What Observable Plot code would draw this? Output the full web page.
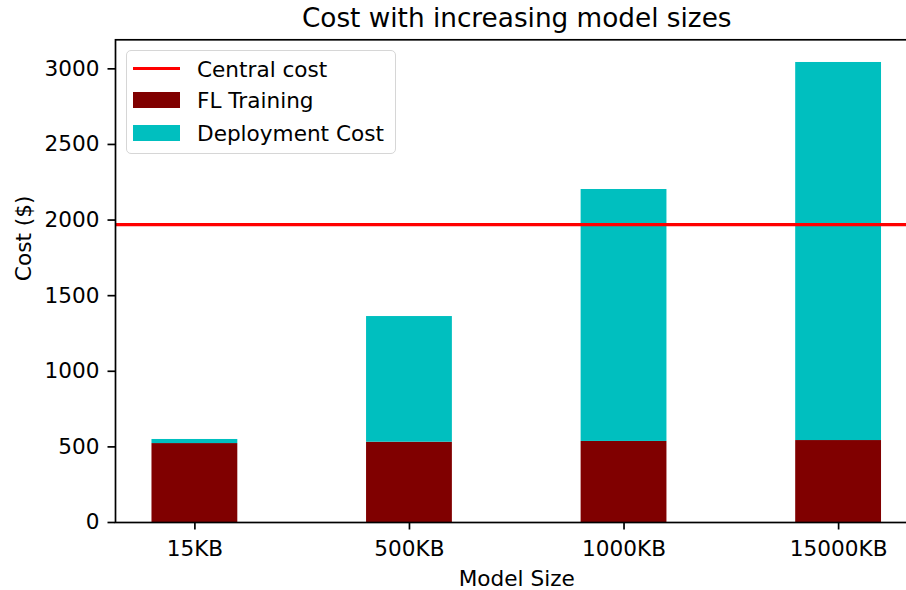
<!DOCTYPE html>
<html><head><meta charset="utf-8">
<script src="https://cdn.jsdelivr.net/npm/d3@7"></script>
<script src="https://cdn.jsdelivr.net/npm/@observablehq/plot@0.6"></script>
<style>
html,body{margin:0;padding:0;background:#fff;}
#wrap{position:relative;width:906px;height:590px;overflow:hidden;font-family:"DejaVu Sans";color:#000;}
#legend{position:absolute;left:125.5px;top:49.5px;width:270px;height:104px;box-sizing:border-box;border:1.7px solid #d6d6d6;border-radius:5px;background:rgba(255,255,255,0.8);}
.sw{position:absolute;left:133px;width:47px;}
.lt{position:absolute;left:197px;height:30px;line-height:30px;font-size:21.6px;white-space:nowrap;}
</style></head>
<body>
<div id="wrap"></div>
<script>
const sizes = ["15KB", "500KB", "1000KB", "15000KB"];
const flTraining = [522, 531, 536, 542];
const deployment = [27, 831, 1666, 2500];
const centralCost = 1970;
const yTicks = [0, 500, 1000, 1500, 2000, 2500, 3000];
const parts = ["FL Training", "Deployment Cost"];
const partColors = ["#800000", "#00bfbf"];
const lineLabel = "Central cost";
const lineColor = "#ff0000";

const rows = [];
sizes.forEach((s, i) => {
  rows.push({size: s, part: parts[0], value: flTraining[i]});
  rows.push({size: s, part: parts[1], value: deployment[i]});
});

const chart = Plot.plot({
  width: 906, height: 590,
  marginTop: 39.3, marginBottom: 68, marginLeft: 115, marginRight: -11.5,
  style: {fontFamily: "DejaVu Sans", fontSize: "21.6px", color: "#000", background: "#fff", overflow: "hidden"},
  x: {type: "band", domain: sizes, paddingInner: 0.6, paddingOuter: 0.17, round: false, label: null},
  y: {domain: [0, 3192], label: null},
  color: {domain: parts, range: partColors},
  marks: [
    Plot.barY(rows, {x: "size", y: "value", fill: "part"}),
    Plot.ruleY([centralCost], {stroke: lineColor, strokeWidth: 3.2}),
    Plot.axisY({ticks: yTicks, tickFormat: d => String(d), tickSize: 7.5, tickPadding: 8.5, strokeWidth: 1.7, label: null, fill: "#000"}),
    Plot.axisX({tickSize: 7.5, tickPadding: 10.2, strokeWidth: 1.7, label: null, fill: "#000"}),
    Plot.frame({stroke: "#000", strokeWidth: 1.7}),
    Plot.text(["Cost with increasing model sizes"], {text: d => d, frameAnchor: "top", lineAnchor: "middle", dy: -20.9, fontSize: 26.3, fill: "#000"}),
    Plot.text(["Model Size"], {text: d => d, frameAnchor: "bottom", lineAnchor: "middle", dy: 56.6, fill: "#000"}),
    Plot.text(["Cost ($)"], {text: d => d, frameAnchor: "left", lineAnchor: "middle", rotate: -90, dx: -91.9, fill: "#000"})
  ]
});
const wrap = document.getElementById("wrap");
wrap.appendChild(chart);

// legend overlay
const legend = document.createElement("div");
legend.id = "legend";
wrap.appendChild(legend);
function add(el){ wrap.appendChild(el); return el; }
const entries = [
  {label: lineLabel, color: lineColor, kind: "line", cy: 68.5},
  {label: parts[0], color: partColors[0], kind: "patch", cy: 100},
  {label: parts[1], color: partColors[1], kind: "patch", cy: 133}
];
entries.forEach(e => {
  const sw = document.createElement("div");
  sw.className = "sw";
  const h = e.kind === "line" ? 3.2 : 16;
  sw.style.top = (e.cy - h / 2) + "px";
  sw.style.height = h + "px";
  sw.style.background = e.color;
  add(sw);
  const t = document.createElement("div");
  t.className = "lt";
  t.style.top = (e.cy - 14) + "px";
  t.textContent = e.label;
  add(t);
});
</script>
</body></html>
